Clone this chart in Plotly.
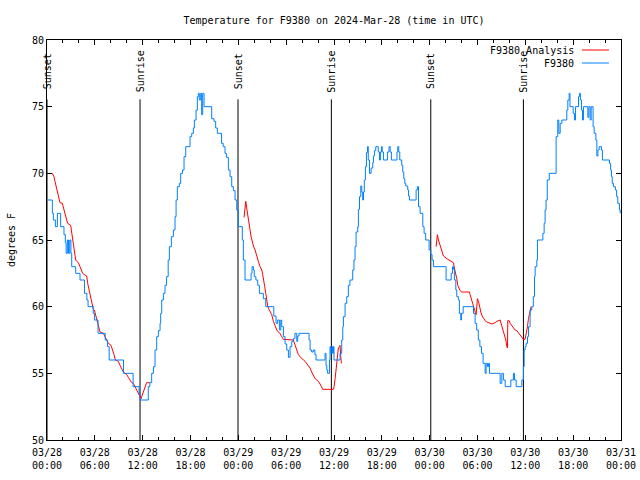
import pandas as pd
import plotly.graph_objects as go

BASE = pd.Timestamp("2024-03-28 00:00")

# ---- data (hours since 03/28 00:00 UTC, temperature in deg F) ----
blue_points = [
    (0, 68), (0.67, 67), (0.8, 66.5), (1.05, 66), (1.3, 67), (1.71, 66), (2.13, 65.4), (2.3, 64.8),
    (2.4, 64), (2.55, 65), (2.7, 64), (2.85, 65), (3.0, 64), (3.1, 63), (3.6, 62.5), (4.14, 62),
    (4.7, 61), (5.0, 60.5), (5.15, 60), (5.8, 59.5), (5.95, 59), (6.4, 58), (7.3, 57.5), (7.6, 57),
    (7.8, 56), (9.6, 55), (10.8, 54), (11.55, 53.5), (11.65, 53), (12.7, 54), (12.9, 54.3), (13.13, 55),
    (13.35, 55.5), (13.55, 56.75), (13.76, 57.75), (13.97, 58.2), (14.18, 58.75), (14.26, 59.5),
    (14.39, 60.5), (14.6, 61), (14.8, 61.6), (15.0, 62.25), (15.2, 63.5), (15.35, 64.5), (15.6, 65.25),
    (15.85, 65.75), (16.06, 66.75), (16.19, 68), (16.35, 69), (16.6, 69.25), (16.77, 70), (17.0, 70.25),
    (17.19, 71.25), (17.4, 72), (17.94, 72.75), (18.15, 73), (18.36, 73.4), (18.48, 74), (18.7, 74.75),
    (18.86, 75.75), (18.99, 76), (19.1, 75.5), (19.28, 76), (19.4, 74.4), (19.53, 76), (19.7, 75),
    (20.66, 74.1), (20.95, 73.9), (21.16, 73.4), (21.37, 73), (21.9, 72.25), (22.1, 72), (22.33, 71.5),
    (22.5, 71.2), (22.75, 70.25), (22.96, 69.75), (23.17, 69), (23.38, 68.7), (23.59, 68), (23.8, 67.25),
    (24.0, 66), (24.5, 65), (24.63, 63.5), (24.84, 62), (25.6, 62.5), (25.72, 63), (25.89, 62.75),
    (26.0, 62.25), (26.2, 62), (26.43, 61.6), (26.64, 61), (27.14, 60.6), (27.44, 60), (28.45, 59.3),
    (28.73, 58.75), (28.94, 59), (29.15, 58.25), (29.32, 59), (29.44, 58.5), (29.65, 57.75),
    (29.86, 57.2), (30.07, 56.75), (30.28, 56.2), (30.49, 57), (30.7, 57.4), (30.9, 57.6), (31.1, 58),
    (31.33, 57.4), (31.45, 57.8), (31.6, 58), (32.87, 57.5), (33.0, 56.75), (33.2, 56.6), (33.4, 56.75),
    (33.6, 56.4), (33.75, 56), (34.88, 56.5), (35.0, 55.6), (35.1, 55.25), (35.2, 55), (35.43, 56),
    (35.5, 57), (35.6, 56.5), (35.72, 57), (35.82, 56.5), (35.93, 57), (36.0, 56), (36.76, 56.5),
    (36.97, 57.5), (37.1, 58.5), (37.18, 59.25), (37.39, 60.25), (37.6, 60.75), (37.8, 61.6), (38.0, 62),
    (38.35, 62.75), (38.5, 63.5), (38.64, 64.5), (38.77, 65.6), (38.98, 66), (39.06, 67.3), (39.2, 68.25),
    (39.36, 69.05), (39.48, 68.6), (39.6, 68), (39.7, 68.6), (39.8, 69.5), (39.94, 70.5), (40.07, 71.55),
    (40.2, 72), (40.3, 71), (40.45, 70), (40.65, 70.4), (40.86, 70.8), (40.95, 71.3), (41.07, 71.7),
    (41.24, 72), (41.55, 71.6), (41.7, 71), (41.82, 71.6), (41.95, 72), (42.05, 71.6), (42.2, 71),
    (42.7, 71.6), (42.9, 72), (43.05, 71.6), (43.2, 71), (43.9, 71.6), (44.0, 72), (44.12, 71.6),
    (44.25, 71), (44.5, 70.6), (44.62, 70.1), (44.75, 69.6), (44.88, 69.25), (45.0, 69.05), (45.25, 68.75),
    (45.35, 68.3), (45.46, 68), (46.3, 68.75), (46.46, 69), (46.6, 67.5), (46.8, 67), (47.14, 66),
    (47.3, 65.5), (47.5, 65), (47.93, 64.25), (48.14, 63.9), (48.3, 63.5), (48.47, 63), (50.06, 62),
    (50.7, 62.5), (50.86, 63), (50.98, 62.8), (51.1, 62), (51.28, 61.25), (51.4, 60.75), (51.6, 60.5),
    (51.73, 59.5), (51.9, 59), (52.0, 59.5), (52.2, 60), (53.5, 59.5), (53.7, 58.75), (53.9, 58.25),
    (54.1, 57.5), (54.3, 57), (54.5, 56.5), (54.7, 55.75), (54.96, 55), (55.08, 55.75), (55.25, 55.5),
    (55.37, 55.75), (55.5, 55), (56.84, 54.25), (57.05, 55), (57.25, 54.5), (57.47, 54), (58.18, 54.5),
    (58.5, 55), (58.64, 54.5), (58.85, 54), (59.56, 54.5), (59.76, 55.5), (59.85, 56.75), (59.97, 57),
    (60.1, 57.25), (60.27, 57.75), (60.4, 58.5), (60.6, 59.75), (60.8, 60), (61.0, 60.75), (61.15, 62.25),
    (61.23, 63), (61.44, 63.5), (61.52, 65), (62.2, 65.5), (62.36, 66.25), (62.48, 67.25), (62.6, 68),
    (62.75, 69.5), (63.0, 70), (63.86, 72.75), (64.07, 74), (64.2, 73), (64.37, 73.75), (64.58, 74),
    (65.2, 74.75), (65.33, 75.5), (65.5, 76), (65.6, 75), (66.0, 74.5), (66.16, 74), (66.3, 75),
    (66.67, 75.75), (66.79, 76), (66.9, 75.5), (67.04, 74.75), (67.17, 74), (67.29, 75), (67.84, 74.2),
    (67.97, 75), (68.13, 74), (68.26, 75), (68.5, 73.5), (68.63, 73), (68.85, 72.5), (68.97, 71.3),
    (69.1, 71.75), (69.26, 72), (69.55, 71.75), (69.67, 71), (70.55, 70.75), (70.7, 70.25), (70.8, 69.75),
    (70.9, 69.25), (71.05, 69), (71.3, 68.75), (71.45, 68.25), (71.6, 67.75), (71.8, 67.25), (71.9, 67),
]

analysis_night1 = [
    (0.67, 70), (0.88, 69.75), (1.0, 69.4), (1.21, 68.9), (1.34, 68.5), (1.51, 68.1), (1.63, 67.8),
    (1.92, 67.75), (2.05, 67.5), (2.17, 67.25), (2.34, 66.9), (2.47, 66.5), (2.59, 66.25), (2.97, 66.1),
    (3.09, 65.6), (3.22, 65), (3.3, 64.6), (3.43, 64.25), (3.6, 63.5), (3.72, 63.4), (3.93, 63.3),
    (4.14, 63), (4.35, 62.75), (4.47, 62.5), (4.68, 62.4), (4.98, 62.3), (5.1, 61.75), (5.27, 61.25),
    (5.4, 60.75), (5.52, 60.4), (5.69, 60), (5.81, 59.8), (5.94, 59.75), (6.1, 59.4), (6.31, 58.9),
    (6.44, 58.5), (6.65, 58.1), (7.07, 58), (7.28, 57.75), (7.49, 57.45), (7.69, 57.25), (8.03, 57.1),
    (8.24, 56.75), (8.41, 56.4), (8.57, 56), (8.95, 55.9), (9.16, 55.6), (9.37, 55.3), (9.58, 55.1),
    (9.79, 55), (10.0, 54.9), (10.2, 54.7), (10.41, 54.5), (10.62, 54.3), (10.83, 54.25), (11.04, 54.0),
    (11.25, 53.75), (11.46, 53.5), (11.67, 53.25), (11.8, 53.1), (11.88, 53.25), (12.08, 53.6),
    (12.3, 53.9), (12.5, 54.3), (12.88, 54.3),
]
analysis_night2 = [
    (24.72, 66.7), (24.84, 67.3), (24.93, 67.9), (25.05, 67.4), (25.18, 66.75), (25.35, 66.25),
    (25.47, 65.75), (25.6, 65.25), (25.76, 64.75), (25.89, 64.55), (26.1, 64.25), (26.31, 63.75),
    (26.51, 63.4), (26.73, 63), (26.94, 62.75), (27.06, 62.4), (27.14, 62), (27.31, 61.5), (27.44, 61),
    (27.57, 60.55), (27.69, 60), (27.85, 59.8), (27.98, 59.6), (28.19, 59.4), (28.4, 58.9), (28.6, 58.55),
    (28.82, 58.25), (29.02, 58.1), (29.23, 58), (29.44, 57.75), (29.65, 57.55), (30.9, 57.5), (31.1, 57.1),
    (31.33, 56.75), (31.53, 56.4), (31.74, 56.25), (31.95, 56.1), (32.16, 56), (32.37, 55.9),
    (32.58, 55.7), (32.79, 55.55), (33.0, 55.4), (33.2, 55.1), (33.41, 54.8), (33.63, 54.6),
    (33.84, 54.5), (34.04, 54.4), (34.25, 54.2), (34.46, 54), (34.59, 53.8), (35.93, 53.8), (36.01, 54),
    (36.14, 54.6), (36.26, 55.25), (36.35, 55.9), (36.47, 56.25), (36.55, 56.9), (36.68, 57.0),
    (36.76, 57.1), (36.85, 56.25), (36.93, 55.75),
]
analysis_night3 = [
    (48.81, 64.5), (48.97, 65.4), (49.1, 65), (49.22, 64.75), (49.39, 64.4), (49.56, 64.05),
    (49.73, 63.8), (50.15, 63.6), (50.56, 63.45), (50.98, 63.3), (51.1, 62.9), (51.23, 62.6),
    (51.4, 62.1), (51.53, 61.6), (51.7, 61.4), (51.82, 61.2), (52.03, 61.1), (52.99, 61.1), (53.07, 60.9),
    (53.2, 60.6), (53.37, 60.25), (53.49, 59.95), (53.62, 59.75), (53.74, 59.55), (53.83, 59.4),
    (53.99, 60.6), (54.12, 60.4), (54.24, 60), (54.42, 59.6), (54.58, 59.3), (54.74, 59.1), (54.96, 58.95),
    (55.17, 58.85), (55.58, 58.75), (55.8, 58.7), (56.21, 58.8), (56.42, 58.9), (56.84, 59),
    (56.96, 58.75), (57.13, 58.4), (57.25, 58.1), (57.38, 57.75), (57.55, 57.5), (57.68, 57),
    (57.76, 56.9), (57.8, 58.95), (57.97, 58.95), (58.09, 58.75), (58.3, 58.55), (58.5, 58.4),
    (58.72, 58.25), (58.93, 58.2), (59.14, 58.05), (59.35, 57.9), (59.56, 57.7), (59.76, 57.55),
    (59.97, 57.55), (60.1, 57.9), (60.27, 58.5), (60.39, 59.1), (60.6, 59.6), (60.73, 60),
]

event_hours = [0.0, 11.67, 23.96, 35.67, 48.14, 59.76]
event_labels = ["Sunset", "Sunrise", "Sunset", "Sunrise", "Sunset", "Sunrise"]

series_names = ["F9380 Analysis", "F9380"]
series_colors = ["#ff0000", "#0080ff"]

y_ticks = [50, 55, 60, 65, 70, 75, 80]
x_tick_hours = list(range(0, 73, 6))

FONT = "DejaVu Sans Mono"


def to_time(h):
    return BASE + pd.Timedelta(hours=h)


# ---- build figure ----
fig = go.Figure()

# analysis (red), nights separated by gaps
rx, ry = [], []
for seg in (analysis_night1, analysis_night2, analysis_night3):
    for h, v in seg:
        rx.append(to_time(h))
        ry.append(v)
    rx.append(None)
    ry.append(None)

# sunrise / sunset lines
ex, ey = [], []
for h in event_hours:
    ex += [to_time(h), to_time(h), None]
    ey += [50, 75.55, None]

fig.add_trace(go.Scatter(x=ex, y=ey, mode="lines", line=dict(color="black", width=1),
                         hoverinfo="skip", showlegend=False))

fig.add_trace(go.Scatter(x=rx, y=ry, mode="lines", name=series_names[0],
                         line=dict(color=series_colors[0], width=1), connectgaps=False,
                         showlegend=False))

fig.add_trace(go.Scatter(x=[to_time(h) for h, _ in blue_points], y=[v for _, v in blue_points],
                         mode="lines", name=series_names[1], line_shape="hv",
                         line=dict(color=series_colors[1], width=1), showlegend=False))

for h, lab in zip(event_hours, event_labels):
    fig.add_annotation(x=to_time(h), y=77.65, xref="x", yref="y", text=lab, textangle=-90,
                       showarrow=False, xanchor="center", yanchor="middle",
                       font=dict(family=FONT, size=10, color="black"))

# manual key (gnuplot style: text right-aligned, sample on the right)
key_rows_y = [0.975, 0.9425]
for name, col, yy in zip(series_names, series_colors, key_rows_y):
    fig.add_annotation(x=0.921, y=yy, xref="paper", yref="paper", text=name, showarrow=False,
                       xanchor="right", yanchor="middle",
                       font=dict(family=FONT, size=10, color="black"))
    fig.add_shape(type="line", xref="paper", yref="paper", x0=0.932, x1=0.979, y0=yy, y1=yy,
                  line=dict(color=col, width=1))

fig.update_layout(
    width=640, height=480,
    margin=dict(l=47, r=19, t=40, b=40, autoexpand=False),
    paper_bgcolor="white", plot_bgcolor="white",
    font=dict(family=FONT, size=10, color="black"),
    title=dict(text="Temperature for F9380 on 2024-Mar-28 (time in UTC)", x=0.5, xref="paper",
               xanchor="center", y=1 - 20 / 480, yanchor="middle",
               font=dict(family=FONT, size=10, color="black")),
    showlegend=False,
)

fig.update_xaxes(
    range=[to_time(0), to_time(72)],
    tickvals=[to_time(h) for h in x_tick_hours],
    tickformat="%m/%d<br>%H:%M",
    ticks="inside", ticklen=5, tickcolor="black", tickwidth=1,
    minor=dict(dtick=2 * 3600 * 1000, ticks="inside", ticklen=3, tickcolor="black", showgrid=False),
    showline=True, linecolor="black", linewidth=1, mirror="allticks",
    showgrid=False, zeroline=False, automargin=False, ticklabelstandoff=3,
    tickfont=dict(family=FONT, size=10, color="black"),
)
fig.update_yaxes(
    range=[50, 80], tickvals=y_ticks,
    ticks="inside", ticklen=5, tickcolor="black", tickwidth=1,
    showline=True, linecolor="black", linewidth=1, mirror="allticks",
    showgrid=False, zeroline=False, automargin=False,
    title=dict(text="degrees F", font=dict(family=FONT, size=10, color="black"), standoff=14),
    tickfont=dict(family=FONT, size=10, color="black"),
)

fig.write_html("out.html")
